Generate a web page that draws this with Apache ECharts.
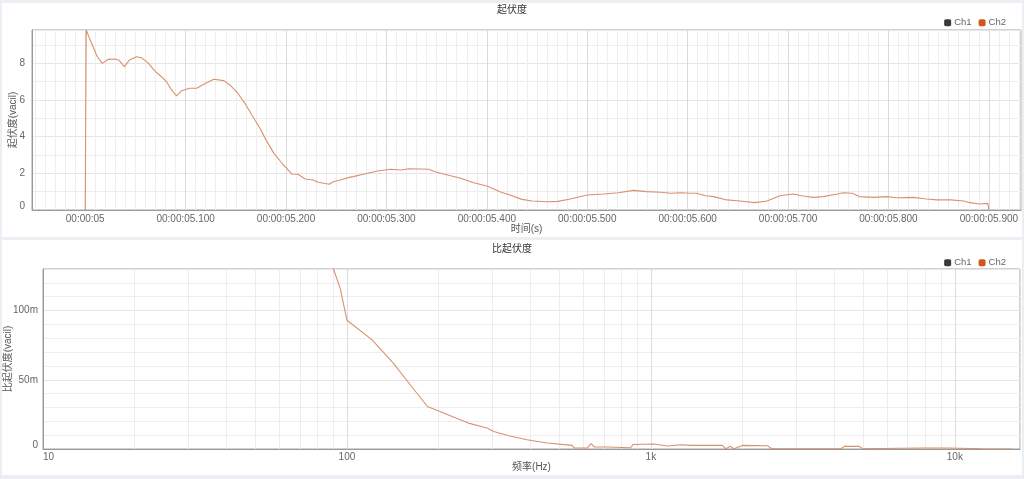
<!DOCTYPE html>
<html>
<head>
<meta charset="utf-8">
<script src="https://cdn.jsdelivr.net/npm/echarts@6/dist/echarts.min.js"></script>
<style>
  html, body { margin: 0; padding: 0; width: 1024px; height: 479px; background: #eceef3; overflow: hidden; }
  .panel { position: absolute; background: #ffffff; }
  #top { left: 2px; top: 3px; width: 1020px; height: 234px; }
  #bottom { left: 2px; top: 240px; width: 1020px; height: 235px; }
</style>
</head>
<body>
<div id="top" class="panel"></div>
<div id="bottom" class="panel"></div>
<script>
// ---- data ----
const legendNames = ['Ch1', 'Ch2'];

// top chart: 起伏度 vs time (seconds)
const topTimes = [5.000, 5.001, 5.005, 5.012, 5.017, 5.023, 5.030, 5.034, 5.039, 5.044, 5.051, 5.056, 5.063,
  5.069, 5.075, 5.081, 5.086, 5.091, 5.096, 5.104, 5.111, 5.120, 5.128, 5.138, 5.144, 5.152, 5.159,
  5.166, 5.174, 5.181, 5.188, 5.196, 5.206, 5.212, 5.219, 5.227, 5.232, 5.239, 5.243, 5.247, 5.254,
  5.263, 5.267, 5.277, 5.291, 5.304, 5.315, 5.322, 5.334, 5.342, 5.350, 5.364, 5.374, 5.387, 5.400,
  5.413, 5.423, 5.435, 5.445, 5.460, 5.471, 5.483, 5.500, 5.516, 5.531, 5.546, 5.559, 5.573, 5.583,
  5.593, 5.603, 5.609, 5.618, 5.626, 5.639, 5.652, 5.667, 5.679, 5.692, 5.705, 5.715, 5.725, 5.735,
  5.749, 5.755, 5.764, 5.771, 5.785, 5.798, 5.808, 5.825, 5.838, 5.848, 5.862, 5.875, 5.881, 5.891,
  5.899, 5.900];
const topValues = [0, 9.82, 9.27, 8.36, 8.00, 8.22, 8.24, 8.15, 7.82, 8.18, 8.36, 8.31, 8.00,
  7.60, 7.31, 7.00, 6.55, 6.22, 6.51, 6.64, 6.64, 6.91, 7.13, 7.06, 6.82, 6.37, 5.82,
  5.18, 4.46, 3.73, 3.09, 2.55, 1.96, 1.95, 1.69, 1.64, 1.51, 1.45, 1.40, 1.54, 1.64,
  1.78, 1.82, 1.95, 2.13, 2.22, 2.18, 2.25, 2.24, 2.22, 2.06, 1.87, 1.73, 1.49, 1.31,
  1.00, 0.82, 0.58, 0.49, 0.45, 0.47, 0.60, 0.82, 0.87, 0.94, 1.07, 1.00, 0.97, 0.91,
  0.94, 0.91, 0.91, 0.78, 0.73, 0.55, 0.49, 0.40, 0.49, 0.78, 0.87, 0.76, 0.69, 0.73,
  0.87, 0.94, 0.91, 0.73, 0.69, 0.73, 0.67, 0.69, 0.60, 0.55, 0.55, 0.49, 0.40, 0.33,
  0.36, 0];

// bottom chart: 比起伏度 vs frequency (Hz)
const freqs = [81.7, 90.3, 95, 100, 121, 142, 161.5, 184, 208, 224, 251, 289, 304, 341, 391, 456,
  551, 559, 617, 636, 652, 718, 857, 875, 1024, 1133, 1253, 1351, 1718, 1762, 1831, 1877,
  1999, 2419, 2496, 4220, 4326, 4847, 4973, 7760, 9490, 12230, 15500];
const ratioValues = [0.158, 0.130, 0.116, 0.093, 0.0788, 0.062, 0.0464, 0.0307, 0.026, 0.0231, 0.0187,
  0.0151, 0.0127, 0.0096, 0.0067, 0.0043, 0.0026, 0.0007, 0.0007, 0.0038, 0.0014, 0.0014, 0.0009,
  0.0033, 0.0036, 0.0022, 0.0031, 0.0026, 0.0026, 0.0002, 0.0019, 0.0002, 0.0026, 0.0024, 0.0002,
  0.0002, 0.0019, 0.0019, 0.0002, 0.0007, 0.0007, 0.0002, 0.0];

// ---- styling ----
const FONT = "'Liberation Sans', 'Noto Sans CJK SC', sans-serif";
const CH1_COLOR = '#3a3a3a';
const CH2_COLOR = '#d4561c';
const LINE_COLOR = '#d8916f';

function pad(n, l) { return String(n).padStart(l, '0'); }
function fmtTime(v) {
  const ms = Math.round(v * 1000);
  const s = Math.floor(ms / 1000);
  const r = ms % 1000;
  return '00:00:' + pad(s, 2) + (r ? '.' + pad(r, 3) : '');
}

function legendCfg(top) {
  return {
    data: legendNames,
    right: 11, top: top,
    itemWidth: 7, itemHeight: 7, itemGap: 7,
    icon: 'roundRect',
    textStyle: { fontSize: 9.5, color: '#666', fontFamily: FONT, padding: [0, 0, 0, -2] }
  };
}
function titleCfg(text, top) {
  return { text: text, left: 'center', top: top,
    textStyle: { fontSize: 10, fontWeight: 'normal', color: '#333', fontFamily: FONT } };
}
const labelBase = { fontSize: 10, color: '#666', fontFamily: FONT };
const nameStyle = { fontSize: 10, color: '#555', fontFamily: FONT };

const topChart = echarts.init(document.getElementById('top'), null, { renderer: 'canvas' });
topChart.setOption({
  animation: false,
  title: titleCfg('起伏度', -3),
  legend: legendCfg(10),
  grid: { left: 30, right: 1, top: 27, bottom: 27, outerBoundsMode: 'none', containLabel: false,
    show: true, borderColor: '#a5a5a5', borderWidth: 1, backgroundColor: '#fff' },
  xAxis: {
    type: 'value', min: 4.947, max: 5.932, splitNumber: 10,
    name: '时间(s)', nameLocation: 'middle', nameGap: 14, nameMoveOverlap: false,
    nameTextStyle: nameStyle,
    axisLine: { show: true, lineStyle: { color: '#999' } },
    axisTick: { show: false },
    axisLabel: Object.assign({ margin: 4, showMinLabel: false, showMaxLabel: false, formatter: fmtTime }, labelBase),
    splitLine: { show: true, lineStyle: { color: '#dadada', width: 1 } },
    minorTick: { show: false, splitNumber: 10 },
    minorSplitLine: { show: true, lineStyle: { color: '#eeeeee', width: 1 } }
  },
  yAxis: {
    type: 'value', min: 0, max: 9.82, interval: 2,
    name: '起伏度(vacil)', nameLocation: 'middle', nameGap: 14, nameRotate: 90, nameMoveOverlap: false,
    nameTextStyle: nameStyle,
    axisLine: { show: true, lineStyle: { color: '#999' } },
    axisTick: { show: false },
    axisLabel: Object.assign({ margin: 7, showMaxLabel: false,
      formatter: function (v) { return v === 0 ? '{z|0}' : String(v); },
      rich: { z: { fontSize: 10, color: '#666', fontFamily: FONT, padding: [0, 0, 8, 0] } } }, labelBase),
    splitLine: { show: true, lineStyle: { color: '#e6e6e6', width: 1 } },
    minorTick: { show: false, splitNumber: 2 },
    minorSplitLine: { show: true, lineStyle: { color: '#eeeeee', width: 1 } }
  },
  series: [
    { name: 'Ch1', type: 'line', data: [], color: CH1_COLOR, showSymbol: false },
    { name: 'Ch2', type: 'line', color: CH2_COLOR, showSymbol: false, symbol: 'none',
      lineStyle: { color: LINE_COLOR, width: 1.1 },
      data: topTimes.map((t, i) => [t, topValues[i]]) }
  ]
});

const bottomChart = echarts.init(document.getElementById('bottom'), null, { renderer: 'canvas' });
bottomChart.setOption({
  animation: false,
  title: titleCfg('比起伏度', -1),
  legend: legendCfg(13),
  grid: { left: 41, right: 2, top: 29, bottom: 26, outerBoundsMode: 'none', containLabel: false,
    show: true, borderColor: '#a5a5a5', borderWidth: 1, backgroundColor: '#fff' },
  xAxis: {
    type: 'log', min: 10, max: 16384, logBase: 10,
    name: '频率(Hz)', nameLocation: 'middle', nameGap: 13, nameMoveOverlap: false,
    nameTextStyle: nameStyle,
    axisLine: { show: true, lineStyle: { color: '#999' } },
    axisTick: { show: false },
    axisLabel: Object.assign({ margin: 3, showMaxLabel: false,
      formatter: function (v) {
        if (Math.abs(v - 10) < 1e-6) return '{l|10}';
        return v >= 1000 ? (v / 1000) + 'k' : String(v);
      },
      rich: { l: { fontSize: 10, color: '#666', fontFamily: FONT, padding: [0, 0, 0, 11] } } }, labelBase),
    splitLine: { show: true, lineStyle: { color: '#dcdcdc', width: 1 } },
    minorTick: { show: false, splitNumber: 9 },
    minorSplitLine: { show: true, lineStyle: { color: '#ededed', width: 1 } }
  },
  yAxis: {
    type: 'value', min: 0, max: 0.13, interval: 0.05,
    name: '比起伏度(vacil)', nameLocation: 'middle', nameGap: 30, nameRotate: 90, nameMoveOverlap: false,
    nameTextStyle: nameStyle,
    axisLine: { show: true, lineStyle: { color: '#999' } },
    axisTick: { show: false },
    axisLabel: Object.assign({ margin: 5, showMaxLabel: false,
      formatter: function (v) { return v === 0 ? '{z|0}' : Math.round(v * 1000) + 'm'; },
      rich: { z: { fontSize: 10, color: '#666', fontFamily: FONT, padding: [0, 0, 8, 0] } } }, labelBase),
    splitLine: { show: true, lineStyle: { color: '#e6e6e6', width: 1 } },
    minorTick: { show: false, splitNumber: 5 },
    minorSplitLine: { show: true, lineStyle: { color: '#eeeeee', width: 1 } }
  },
  series: [
    { name: 'Ch1', type: 'line', data: [], color: CH1_COLOR, showSymbol: false },
    { name: 'Ch2', type: 'line', color: CH2_COLOR, showSymbol: false, symbol: 'none', clip: true,
      lineStyle: { color: LINE_COLOR, width: 1.1 },
      data: freqs.map((f, i) => [f, ratioValues[i]]) }
  ]
});
</script>
</body>
</html>
